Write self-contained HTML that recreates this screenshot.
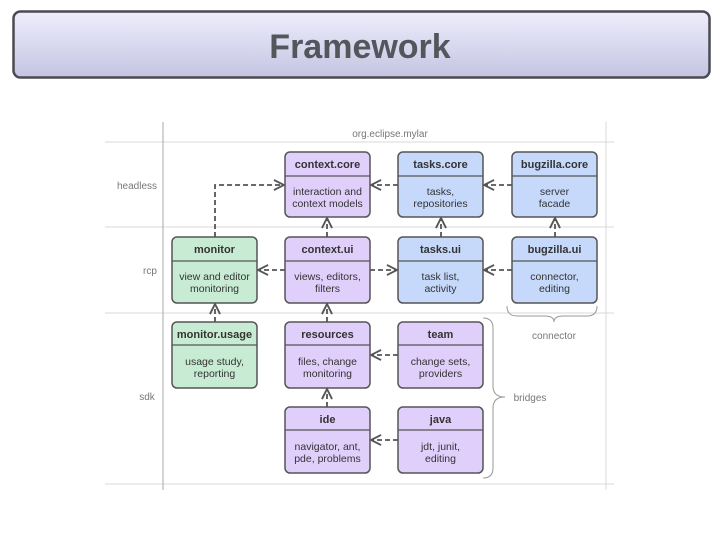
<!DOCTYPE html>
<html><head><meta charset="utf-8"><style>
html,body{margin:0;padding:0;background:#fff;width:720px;height:540px;overflow:hidden}
svg{display:block;font-family:"Liberation Sans",sans-serif}
</style></head><body>
<svg width="720" height="540" viewBox="0 0 720 540" xmlns="http://www.w3.org/2000/svg">
<defs>
<linearGradient id="tg" x1="0" y1="0" x2="0" y2="1"><stop offset="0" stop-color="#eeeefc"/><stop offset="1" stop-color="#c4c4e2"/></linearGradient>
<marker id="ar" viewBox="0 0 10 10" refX="9" refY="5" markerWidth="7" markerHeight="7" orient="auto"><path d="M1,1 L9,5 L1,9" fill="none" stroke="#555" stroke-width="1.5"/></marker>
</defs>
<rect x="13.5" y="11.5" width="696" height="66" rx="7" fill="url(#tg)" stroke="#4a4a52" stroke-width="2.5"/>
<text x="360" y="58" text-anchor="middle" font-size="34" font-weight="bold" fill="#55555c">Framework</text>

<g stroke="#d8d8d8" stroke-width="1">
<line x1="105" y1="142" x2="614" y2="142"/>
<line x1="105" y1="227" x2="614" y2="227"/>
<line x1="105" y1="313" x2="614" y2="313"/>
<line x1="105" y1="484" x2="614" y2="484"/>
<line x1="606" y1="122" x2="606" y2="490"/>
</g>
<line x1="163" y1="122" x2="163" y2="490" stroke="#aaa" stroke-width="1"/>
<g fill="#777" font-size="10">
<text x="390" y="137" text-anchor="middle">org.eclipse.mylar</text>
<text x="137" y="189" text-anchor="middle">headless</text>
<text x="150" y="274" text-anchor="middle">rcp</text>
<text x="147" y="400" text-anchor="middle">sdk</text>
<text x="554" y="339" text-anchor="middle">connector</text>
<text x="530" y="401" text-anchor="middle">bridges</text>
</g>
<g fill="none" stroke="#999" stroke-width="1">
<path d="M507,306 q0,10 10,10 h28 q9,0 9,6 q0,-6 9,-6 h24 q10,0 10,-10"/>
<path d="M483,318 q10,0 10,10 v58 q0,11 12,11 q-12,0 -12,11 v60 q0,10 -10,10"/>
</g>

<g stroke="#555" stroke-width="1.8" stroke-dasharray="5,3" fill="none" marker-end="url(#ar)">
<path d="M215,237 V185 H284"/>
<line x1="398" y1="185" x2="371" y2="185"/>
<line x1="512" y1="185" x2="484" y2="185"/>
<line x1="327" y1="237" x2="327" y2="218"/>
<line x1="441" y1="237" x2="441" y2="218"/>
<line x1="555" y1="237" x2="555" y2="218"/>
<line x1="285" y1="270" x2="258" y2="270"/>
<line x1="370" y1="270" x2="397" y2="270"/>
<line x1="512" y1="270" x2="484" y2="270"/>
<line x1="215" y1="322" x2="215" y2="304"/>
<line x1="327" y1="322" x2="327" y2="304"/>
<line x1="398" y1="355" x2="371" y2="355"/>
<line x1="327" y1="407" x2="327" y2="389"/>
<line x1="398" y1="440" x2="371" y2="440"/>
</g>

<g font-size="10.5" fill="#333" text-anchor="middle">
<!-- box template: x,y w85 h66 -->
<g><rect x="285" y="152" width="85" height="65" rx="5" fill="#e0cffb" stroke="#555" stroke-width="1.5"/><line x1="285" y1="176" x2="370" y2="176" stroke="#555" stroke-width="1.2"/><text x="327.5" y="168" font-weight="bold" font-size="11">context.core</text><text x="327.5" y="195">interaction and</text><text x="327.5" y="207">context models</text></g>
<g><rect x="398" y="152" width="85" height="65" rx="5" fill="#c6d9fb" stroke="#555" stroke-width="1.5"/><line x1="398" y1="176" x2="483" y2="176" stroke="#555" stroke-width="1.2"/><text x="440.5" y="168" font-weight="bold" font-size="11">tasks.core</text><text x="440.5" y="195">tasks,</text><text x="440.5" y="207">repositories</text></g>
<g><rect x="512" y="152" width="85" height="65" rx="5" fill="#c6d9fb" stroke="#555" stroke-width="1.5"/><line x1="512" y1="176" x2="597" y2="176" stroke="#555" stroke-width="1.2"/><text x="554.5" y="168" font-weight="bold" font-size="11">bugzilla.core</text><text x="554.5" y="195">server</text><text x="554.5" y="207">facade</text></g>

<g><rect x="172" y="237" width="85" height="66" rx="5" fill="#c8ecd3" stroke="#555" stroke-width="1.5"/><line x1="172" y1="261" x2="257" y2="261" stroke="#555" stroke-width="1.2"/><text x="214.5" y="253" font-weight="bold" font-size="11">monitor</text><text x="214.5" y="280">view and editor</text><text x="214.5" y="292">monitoring</text></g>
<g><rect x="285" y="237" width="85" height="66" rx="5" fill="#e0cffb" stroke="#555" stroke-width="1.5"/><line x1="285" y1="261" x2="370" y2="261" stroke="#555" stroke-width="1.2"/><text x="327.5" y="253" font-weight="bold" font-size="11">context.ui</text><text x="327.5" y="280">views, editors,</text><text x="327.5" y="292">filters</text></g>
<g><rect x="398" y="237" width="85" height="66" rx="5" fill="#c6d9fb" stroke="#555" stroke-width="1.5"/><line x1="398" y1="261" x2="483" y2="261" stroke="#555" stroke-width="1.2"/><text x="440.5" y="253" font-weight="bold" font-size="11">tasks.ui</text><text x="440.5" y="280">task list,</text><text x="440.5" y="292">activity</text></g>
<g><rect x="512" y="237" width="85" height="66" rx="5" fill="#c6d9fb" stroke="#555" stroke-width="1.5"/><line x1="512" y1="261" x2="597" y2="261" stroke="#555" stroke-width="1.2"/><text x="554.5" y="253" font-weight="bold" font-size="11">bugzilla.ui</text><text x="554.5" y="280">connector,</text><text x="554.5" y="292">editing</text></g>

<g><rect x="172" y="322" width="85" height="66" rx="5" fill="#c8ecd3" stroke="#555" stroke-width="1.5"/><line x1="172" y1="345" x2="257" y2="345" stroke="#555" stroke-width="1.2"/><text x="214.5" y="338" font-weight="bold" font-size="11">monitor.usage</text><text x="214.5" y="365">usage study,</text><text x="214.5" y="377">reporting</text></g>
<g><rect x="285" y="322" width="85" height="66" rx="5" fill="#e0cffb" stroke="#555" stroke-width="1.5"/><line x1="285" y1="345" x2="370" y2="345" stroke="#555" stroke-width="1.2"/><text x="327.5" y="338" font-weight="bold" font-size="11">resources</text><text x="327.5" y="365">files, change</text><text x="327.5" y="377">monitoring</text></g>
<g><rect x="398" y="322" width="85" height="66" rx="5" fill="#e0cffb" stroke="#555" stroke-width="1.5"/><line x1="398" y1="345" x2="483" y2="345" stroke="#555" stroke-width="1.2"/><text x="440.5" y="338" font-weight="bold" font-size="11">team</text><text x="440.5" y="365">change sets,</text><text x="440.5" y="377">providers</text></g>

<g><rect x="285" y="407" width="85" height="66" rx="5" fill="#e0cffb" stroke="#555" stroke-width="1.5"/><line x1="285" y1="430" x2="370" y2="430" stroke="#555" stroke-width="1.2"/><text x="327.5" y="423" font-weight="bold" font-size="11">ide</text><text x="327.5" y="450">navigator, ant,</text><text x="327.5" y="462">pde, problems</text></g>
<g><rect x="398" y="407" width="85" height="66" rx="5" fill="#e0cffb" stroke="#555" stroke-width="1.5"/><line x1="398" y1="430" x2="483" y2="430" stroke="#555" stroke-width="1.2"/><text x="440.5" y="423" font-weight="bold" font-size="11">java</text><text x="440.5" y="450">jdt, junit,</text><text x="440.5" y="462">editing</text></g>
</g>
</svg>
</body></html>
